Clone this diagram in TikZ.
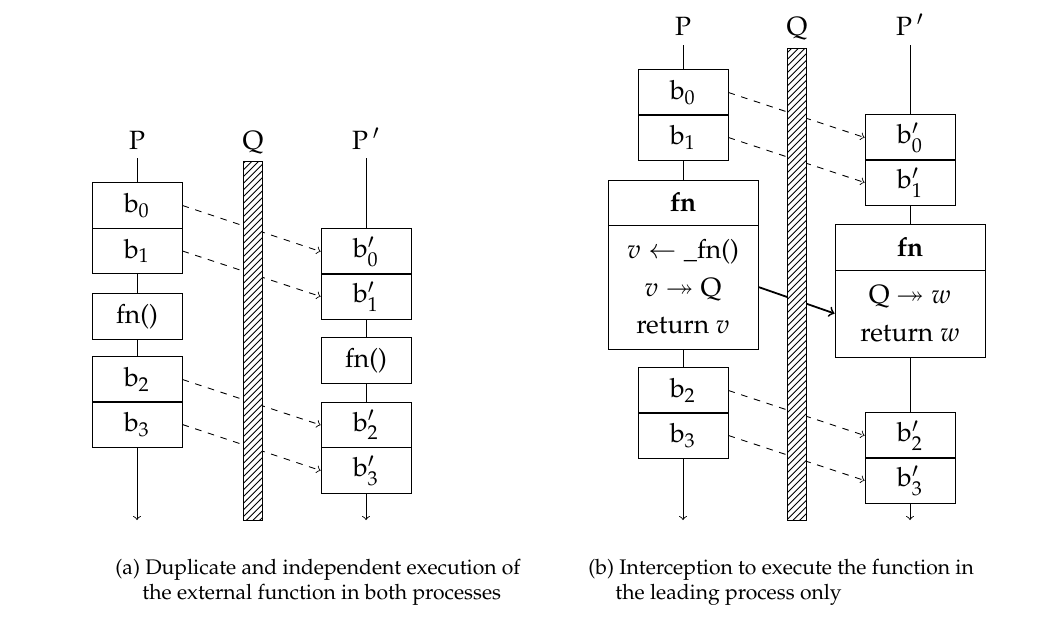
\documentclass[tikz,border=0pt]{standalone}
\usepackage[T1]{fontenc}
\usepackage{mathpazo}
\usepackage{amssymb}
\usetikzlibrary{patterns}

\begin{document}
\begin{tikzpicture}[x=0.45pt,y=-0.45pt,
    font=\fontsize{11.9}{16.9}\selectfont,
    blk/.style={draw, minimum width=40.5pt, minimum height=20.4pt, inner sep=0pt},
    fnbox/.style={draw, minimum width=67.5pt, inner sep=0pt, align=center},
    copyarr/.style={->, dashed},
    callarr/.style={->, thick},
    wall/.style={draw, preaction={fill=white}, pattern=north east lines},
    capt/.style={anchor=base west, inner sep=0pt, font=\fontsize{9.5}{11.5}\selectfont}]
    \useasboundingbox (0,0) rectangle (1048,620);

    % (a) both processes run fn() on their own
    \node[anchor=base] (pa) at (137,149) {P};
    \node[anchor=base] (qa) at (253,149) {Q};
    \node[anchor=base] (ra) at (366,149) {P$\,'$};
    \coordinate (pa top) at (137,158);
    \coordinate (pa end) at (137,520);
    \coordinate (ra top) at (366,158);
    \coordinate (ra end) at (366,520);

    \node[blk] (a0) at (137,205.5) {b$_0$};
    \node[blk] (a1) at (137,251) {b$_1$};
    \node[blk] (afn) at (137,316.5) {fn()};
    \node[blk] (a2) at (137,379.5) {b$_2$};
    \node[blk] (a3) at (137,424.5) {b$_3$};

    \node[blk] (c0) at (366,251.5) {b$'_0$};
    \node[blk] (c1) at (366,296.5) {b$'_1$};
    \node[blk] (cfn) at (366,360.5) {fn()};
    \node[blk] (c2) at (366,425) {b$'_2$};
    \node[blk] (c3) at (366,470.5) {b$'_3$};

    \draw (pa top) -- (a0.north);
    \draw (a1.south) -- (afn.north);
    \draw (afn.south) -- (a2.north);
    \draw[->] (a3.south) -- (pa end);
    \draw (ra top) -- (c0.north);
    \draw (c1.south) -- (cfn.north);
    \draw (cfn.south) -- (c2.north);
    \draw[->] (c3.south) -- (ra end);

    \draw[copyarr] (a0.east) -- (c0.west);
    \draw[copyarr] (a1.east) -- (c1.west);
    \draw[copyarr] (a2.east) -- (c2.west);
    \draw[copyarr] (a3.east) -- (c3.west);
    \draw[wall] (243,161) rectangle (262,520);

    % (b) the leader runs fn and passes the result through Q
    \node[anchor=base] (pb) at (683,35) {P};
    \node[anchor=base] (qb) at (797,35) {Q};
    \node[anchor=base] (rb) at (910,35) {P$\,'$};
    \coordinate (pb top) at (683,45);
    \coordinate (pb end) at (683,520);
    \coordinate (rb top) at (910,45);
    \coordinate (rb end) at (910,520);

    \node[blk] (b0) at (683,92.5) {b$_0$};
    \node[blk] (b1) at (683,137.5) {b$_1$};
    \node[fnbox, minimum height=20.3pt] (bhead) at (683,202.5) {\textbf{fn}};
    \node[fnbox, minimum height=55.8pt] (bbody) at (683,287)
        {$v \leftarrow{}$\_fn()\\$v \twoheadrightarrow{}$Q\\return $v$};
    \node[blk] (b2) at (683,390.5) {b$_2$};
    \node[blk] (b3) at (683,435.5) {b$_3$};

    \node[blk] (d0) at (910,137.5) {b$'_0$};
    \node[blk] (d1) at (910,182.5) {b$'_1$};
    \node[fnbox, minimum height=20.7pt] (dhead) at (910,247) {\textbf{fn}};
    \node[fnbox, minimum height=39.2pt] (dbody) at (910,313.5)
        {Q $\twoheadrightarrow w$\\return $w$};
    \node[blk] (d2) at (910,435.5) {b$'_2$};
    \node[blk] (d3) at (910,480.5) {b$'_3$};

    \draw (pb top) -- (b0.north);
    \draw (b1.south) -- (bhead.north);
    \draw (bbody.south) -- (b2.north);
    \draw[->] (b3.south) -- (pb end);
    \draw (rb top) -- (d0.north);
    \draw (d1.south) -- (dhead.north);
    \draw (dbody.south) -- (d2.north);
    \draw[->] (d3.south) -- (rb end);

    \draw[copyarr] (b0.east) -- (d0.west);
    \draw[copyarr] (b1.east) -- (d1.west);
    \draw[copyarr] (b2.east) -- (d2.west);
    \draw[copyarr] (b3.east) -- (d3.west);
    \draw[callarr] (bbody.east) -- (dbody.west);
    \draw[wall] (787,48) rectangle (806,520);

    % captions
    \node[capt] (capa) at (115,574) {(a) Duplicate and independent execution of};
    \node[capt] (capa2) at (142,599) {the external function in both processes};
    \node[capt] (capb) at (588,574) {(b) Interception to execute the function in};
    \node[capt] (capb2) at (615,599) {the leading process only};
\end{tikzpicture}
\end{document}
